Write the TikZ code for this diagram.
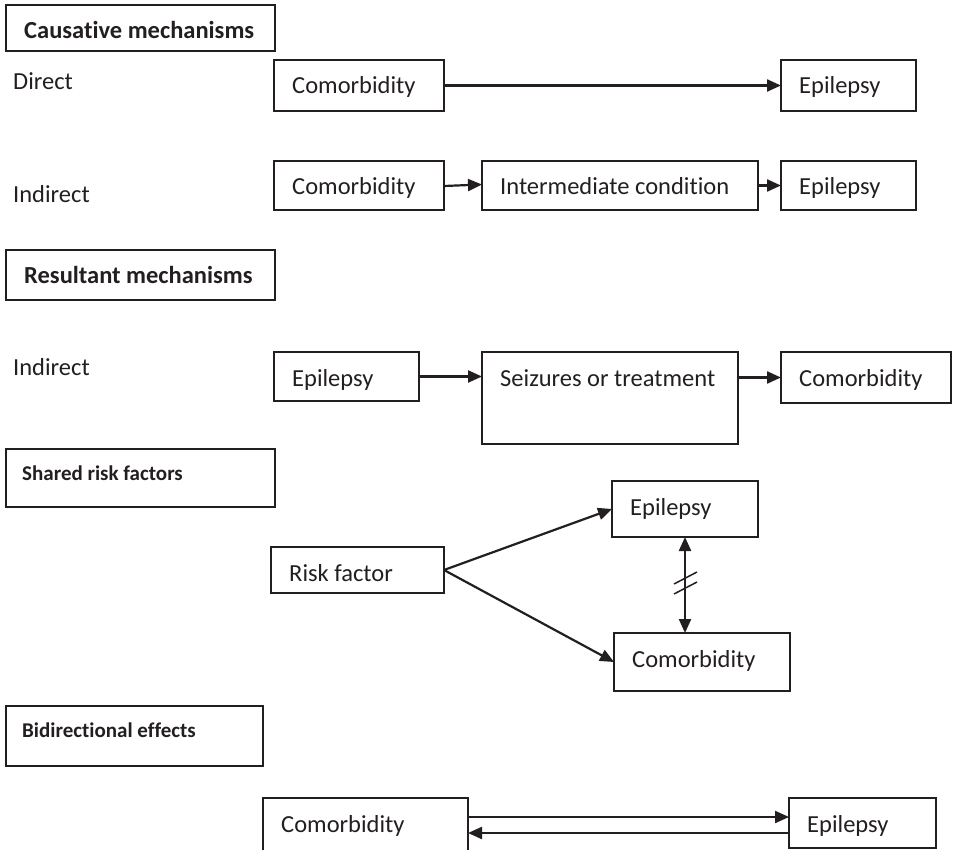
\documentclass[tikz,border=0pt]{standalone}
\usepackage{fontspec}
\setmainfont{Carlito}[Ligatures=NoCommon]
\usetikzlibrary{arrows.meta}
\definecolor{ink}{RGB}{35,31,32}
\newcommand\bx[6]{%
  \node[box, minimum width=#4pt, minimum height=#5pt] (#1) at (#2,#3) {};
  \node[lbl] (#1-t) at ([shift={(18,34)}]#1.north west) {#6};}
\begin{document}
\begin{tikzpicture}[x=1pt,y=-1pt,
  box/.style={draw=ink, line width=1.8pt, anchor=north west, inner sep=0pt, outer sep=0pt},
  lbl/.style={anchor=base west, inner sep=0pt, text=ink, font=\fontsize{24.5}{29}\selectfont},
  head/.style={lbl, font=\fontsize{24.5}{29}\selectfont\bfseries},
  heads/.style={lbl, font=\fontsize{21}{25}\selectfont\bfseries},
  arr/.style={draw=ink, line width=2.2pt, -{Triangle[length=14pt,width=12pt]}},
  barr/.style={draw=ink, line width=2.2pt, {Triangle[length=14pt,width=12pt]}-{Triangle[length=14pt,width=12pt]}},
]
\useasboundingbox[fill=white] (0,0) rectangle (957,850);

% headings
\node[box, minimum width=269pt, minimum height=46pt] (h1) at (6,5) {};
\node[head] (h1-t) at (24,39) {Causative mechanisms};
\node[box, minimum width=269pt, minimum height=50pt] (h2) at (6,250) {};
\node[head] (h2-t) at (24,283) {Resultant mechanisms};
\node[box, minimum width=269pt, minimum height=58pt] (h3) at (6,449) {};
\node[heads] (h3-t) at (22,480) {Shared risk factors};
\node[box, minimum width=257pt, minimum height=60pt] (h4) at (6,706) {};
\node[heads] (h4-t) at (22,737) {Bidirectional effects};

% side labels
\node[lbl] (ld) at (13,90) {Direct};
\node[lbl] (li1) at (13,203) {Indirect};
\node[lbl] (li2) at (13,375) {Indirect};

% causative, direct
\bx{d1}{274}{60}{170}{51}{Comorbidity}
\bx{d2}{781}{60}{135}{51}{Epilepsy}
\draw[arr] (d1.east) -- (d2.west);

% causative, indirect
\bx{i1}{274}{161}{170}{49}{Comorbidity}
\bx{i2}{482}{161}{276}{49}{Intermediate condition}
\bx{i3}{781}{161}{135}{49}{Epilepsy}
\draw[arr] ([yshift=-0.5pt]i1.east) -- ([yshift=1pt]i2.west);
\draw[arr] (i2.east) -- (i3.west);

% resultant
\bx{r1}{274}{352}{145}{49}{Epilepsy}
\bx{r2}{482}{352}{256}{92}{Seizures or treatment}
\bx{r3}{781}{352}{170}{51}{Comorbidity}
\draw[arr] (r1.east) -- (r1.east -| r2.west);
\draw[arr] (r3.west -| r2.east) -- (r3.west);

% shared risk factors
\bx{s0}{271}{547}{173}{46}{Risk factor}
\bx{s1}{612}{481}{146}{56}{Epilepsy}
\bx{s2}{614}{633}{176}{58}{Comorbidity}
\draw[arr] (s0.east) -- (s1.west);
\draw[arr] (s0.east) -- (s2.west);
\draw[barr] (s1.south) -- (s1.south |- s2.north);
\path (s1.south) -- (s1.south |- s2.north) coordinate[pos=0.5] (m);
\draw[ink, line width=1.5pt] ([shift={(-11,-1)}]m) -- ++(23,-12);
\draw[ink, line width=1.5pt] ([shift={(-11,9)}]m) -- ++(23,-12);

% bidirectional
\bx{b1}{263}{798}{205}{70}{Comorbidity}
\bx{b2}{789}{798}{147}{50}{Epilepsy}
\draw[arr] ([yshift=-19pt]b1.north east) -- ([yshift=-19pt]b2.north west);
\draw[arr] ([yshift=-35pt]b2.north west) -- ([yshift=-35pt]b1.north east);
\end{tikzpicture}
\end{document}
